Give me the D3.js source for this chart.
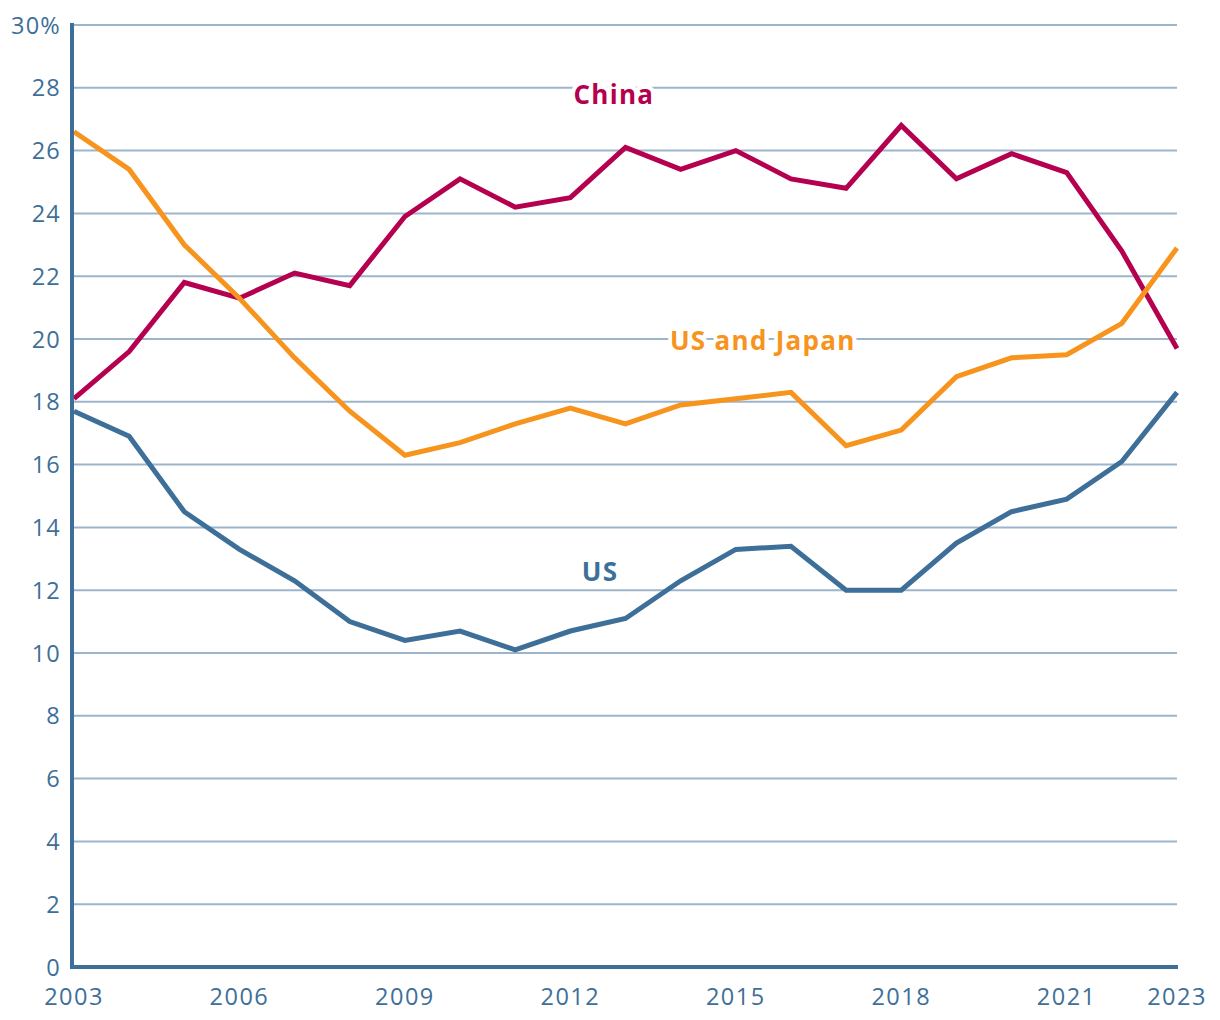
<!DOCTYPE html>
<html><head><meta charset="utf-8">
<script src="https://cdn.jsdelivr.net/npm/d3@7"></script>
<style>body{margin:0;background:#fff}svg{display:block}</style>
</head><body><svg id="c" width="1220" height="1020"></svg>
<script>
const years = d3.range(2003, 2024);
const china = [18.1,19.6,21.8,21.3,22.1,21.7,23.9,25.1,24.2,24.5,26.1,25.4,26.0,25.1,24.8,26.8,25.1,25.9,25.3,22.8,19.7];
const usJapan = [26.6,25.4,23.0,21.3,19.4,17.7,16.3,16.7,17.3,17.8,17.3,17.9,18.1,18.3,16.6,17.1,18.8,19.4,19.5,20.5,22.9];
const us = [17.7,16.9,14.5,13.3,12.3,11.0,10.4,10.7,10.1,10.7,11.1,12.3,13.3,13.4,12.0,12.0,13.5,14.5,14.9,16.1,18.3];
const xTicks = [2003,2006,2009,2012,2015,2018,2021,2023];
const yTicks = d3.range(0, 31, 2);
const seriesNames = ["China","US and Japan","US"];
const labelPos = [{year:2012.79, v:27.48},{year:2015.49, v:19.65},{year:2012.54, v:12.29}];

const colors = ["#b5004f","#f7941d","#3d6f99"];
const axisColor = "#3d6f99", gridColor = "#9db5cb";
const font = "'Open Sans', sans-serif";

const svg = d3.select("#c");
const L = 74, R = 1177, T = 25, B = 967;
const x = d3.scaleLinear().domain([2003, 2023]).range([L, R]);
const y = d3.scaleLinear().domain([0, 30]).range([B, T]);

svg.append("g").selectAll("line").data(yTicks.filter(d=>d>0)).join("line")
  .attr("x1", L).attr("x2", R).attr("y1", d=>y(d)).attr("y2", d=>y(d))
  .attr("stroke", gridColor).attr("stroke-width", 2);

svg.append("g").selectAll("text").data(yTicks).join("text")
  .attr("x", 61).attr("y", d=>y(d)+8.5).attr("text-anchor","end")
  .attr("font-family", font).attr("font-size", 23.5).attr("letter-spacing", 1.2).attr("fill", axisColor)
  .text(d=> d===30 ? "30%" : d);

svg.append("g").selectAll("text").data(xTicks).join("text")
  .attr("x", d=>x(d)).attr("y", 1005).attr("text-anchor","middle")
  .attr("font-family", font).attr("font-size", 23.5).attr("letter-spacing", 1.5).attr("fill", axisColor)
  .text(d=>d);

const data = [china, usJapan, us];
const line = d3.line().x((d,i)=>x(years[i])).y(d=>y(d));
data.forEach((s, k) => {
  svg.append("path").datum(s).attr("d", line).attr("fill","none")
    .attr("stroke", colors[k]).attr("stroke-width", 5).attr("stroke-linejoin","miter");
});

svg.append("line").attr("x1", L-2).attr("x2", L-2).attr("y1", T-2).attr("y2", B+2)
  .attr("stroke", axisColor).attr("stroke-width", 4);
svg.append("line").attr("x1", L-4).attr("x2", R+1).attr("y1", B).attr("y2", B)
  .attr("stroke", axisColor).attr("stroke-width", 4);

seriesNames.forEach((n, k) => {
  svg.append("text").attr("x", x(labelPos[k].year)).attr("y", y(labelPos[k].v))
    .attr("text-anchor","middle").attr("font-family", font).attr("font-weight","bold")
    .attr("font-size", 26).attr("letter-spacing", 1.3).attr("fill", colors[k])
    .attr("stroke","#fff").attr("stroke-width",8).attr("paint-order","stroke").text(n);
});
</script></body></html>
